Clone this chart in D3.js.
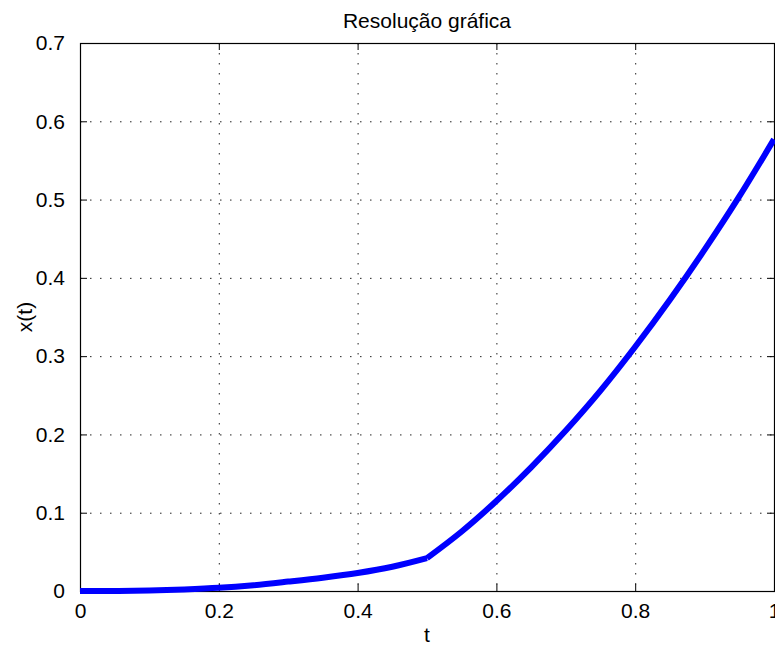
<!DOCTYPE html>
<meta charset="utf-8">
<script src="https://cdn.jsdelivr.net/npm/d3@7"></script>
<style>
  body { margin: 0; background: #fff; }
  text { font-family: "Liberation Sans", Arial, Helvetica, sans-serif; fill: #000; }
</style>
<body>
<script>

var width = 775
var height = 646

// data
var tValues = [0, 0.05, 0.1, 0.15, 0.2, 0.25, 0.3, 0.35, 0.4, 0.45, 0.5,
               0.55, 0.6, 0.65, 0.7, 0.75, 0.8, 0.85, 0.9, 0.95, 1.0]
var xValues = [0, 0.0001, 0.0007, 0.002, 0.004, 0.0074, 0.012, 0.017, 0.023, 0.031, 0.042,
               0.076, 0.115, 0.158, 0.205, 0.256, 0.312, 0.372, 0.436, 0.504, 0.577]
var breakT = 0.5   // the curve has a kink here
var xTicks = [0, 0.2, 0.4, 0.6, 0.8, 1]
var yTicks = [0, 0.1, 0.2, 0.3, 0.4, 0.5, 0.6, 0.7]

var title = "Resolução gráfica"
var xLabel = "t"
var yLabel = "x(t)"

// plot box (note: "top" is reserved on window, so use a prefix)
var boxLeft = 80, boxRight = 774, boxTop = 43, boxBottom = 591
var fontSize = "21px"

var x = d3.scaleLinear().domain([0, 1]).range([boxLeft, boxRight])
var y = d3.scaleLinear().domain([0, 0.7]).range([boxBottom, boxTop])

var svg = d3.select("body").append("svg")
            .attr("width", width)
            .attr("height", height)
            .style("display", "block")

// dotted grid
svg.append("g").selectAll("line")
   .data(xTicks.slice(1, -1))
   .enter().append("line")
   .attr("x1", d => x(d) + 0.5).attr("x2", d => x(d) + 0.5)
   .attr("y1", boxTop).attr("y2", boxBottom)
   .style("stroke", "#222")
   .style("stroke-width", 1)
   .style("stroke-dasharray", "1.5,8.5")

svg.append("g").selectAll("line")
   .data(yTicks.slice(1, -1))
   .enter().append("line")
   .attr("x1", boxLeft).attr("x2", boxRight)
   .attr("y1", d => y(d) + 0.5).attr("y2", d => y(d) + 0.5)
   .style("stroke", "#222")
   .style("stroke-width", 1)
   .style("stroke-dasharray", "1.5,8.5")

// axes, ticks pointing inward
function styleAxis(g) {
  g.select(".domain").remove()
  g.selectAll(".tick line").style("stroke", "#000")
  g.selectAll(".tick text")
   .style("font-family", '"Liberation Sans", Arial, sans-serif')
   .style("font-size", fontSize)
   .style("fill", "#000")
}

svg.append("g")
   .attr("transform", "translate(0," + boxBottom + ")")
   .call(d3.axisBottom(x).tickValues(xTicks).tickFormat(d3.format("")).tickSizeInner(-7).tickSizeOuter(0).tickPadding(12))
   .call(styleAxis)

svg.append("g")
   .attr("transform", "translate(0," + boxTop + ")")
   .call(d3.axisTop(x).tickValues(xTicks).tickFormat("").tickSizeInner(-7).tickSizeOuter(0))
   .call(styleAxis)

svg.append("g")
   .attr("transform", "translate(" + boxLeft + ",0)")
   .call(d3.axisLeft(y).tickValues(yTicks).tickFormat(d3.format("")).tickSizeInner(-7).tickSizeOuter(0).tickPadding(15))
   .call(styleAxis)

svg.append("g")
   .attr("transform", "translate(" + boxRight + ",0)")
   .call(d3.axisRight(y).tickValues(yTicks).tickFormat("").tickSizeInner(-7).tickSizeOuter(0))
   .call(styleAxis)

// box
svg.append("rect")
   .attr("x", boxLeft + 0.5)
   .attr("y", boxTop + 0.5)
   .attr("width", boxRight - boxLeft)
   .attr("height", boxBottom - boxTop)
   .style("fill", "none")
   .style("stroke", "#000")
   .style("stroke-width", 1.2)

// the curve: two smooth pieces meeting at the kink
var points = tValues.map((t, i) => [t, xValues[i]])
var pieces = [points.filter(p => p[0] <= breakT), points.filter(p => p[0] >= breakT)]

var line = d3.line()
             .x(d => x(d[0]))
             .y(d => y(d[1]))
             .curve(d3.curveMonotoneX)

svg.append("path")
   .attr("d", pieces.map(p => line(p)).join(""))
   .style("fill", "none")
   .style("stroke", "#0000ff")
   .style("stroke-width", 6)
   .style("stroke-linejoin", "round")

// labels
svg.append("text")
   .attr("x", (boxLeft + boxRight) / 2)
   .attr("y", 28)
   .style("text-anchor", "middle")
   .style("font-size", fontSize)
   .text(title)

svg.append("text")
   .attr("x", (boxLeft + boxRight) / 2)
   .attr("y", 642)
   .style("text-anchor", "middle")
   .style("font-size", fontSize)
   .text(xLabel)

svg.append("text")
   .attr("transform", "translate(32," + ((boxTop + boxBottom) / 2) + ") rotate(-90)")
   .style("text-anchor", "middle")
   .style("font-size", fontSize)
   .text(yLabel)

</script>
</body>
